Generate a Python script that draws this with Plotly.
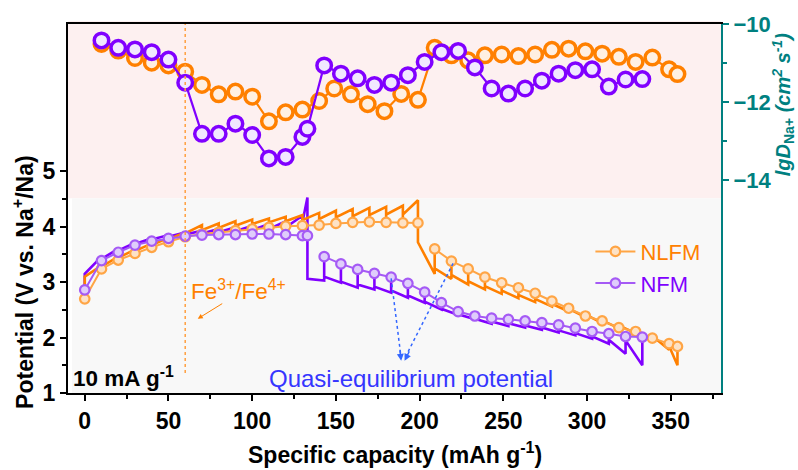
import plotly.graph_objects as go

# ---------------- data ----------------
# NFM GITT charge
nfm_chg_cap = [0, 10, 20, 30, 40, 50, 60, 70, 80, 90, 100, 110, 120, 130, 133]
nfm_chg_eq = [2.86, 3.39, 3.54, 3.67, 3.74, 3.79, 3.83, 3.85, 3.86, 3.86, 3.87, 3.87, 3.86, 3.84, 3.84]
nfm_chg_start = [3.15, 3.42, 3.57, 3.69, 3.77, 3.82, 3.86, 3.88, 3.90, 3.92, 3.94, 3.96, 3.99, 4.08]
nfm_chg_peak = [3.46, 3.60, 3.71, 3.79, 3.85, 3.90, 3.93, 3.96, 3.99, 4.02, 4.05, 4.10, 4.20, 4.53]
# NFM GITT discharge
nfm_dis_cap = [143, 153, 163, 173, 183, 193, 203, 213, 223, 233, 243, 253, 263, 273, 283, 293, 303, 313, 323, 333]
nfm_dis_eq = [3.46, 3.33, 3.23, 3.16, 3.09, 2.98, 2.82, 2.63, 2.47, 2.39, 2.35, 2.33, 2.30, 2.27, 2.23, 2.17, 2.11, 2.07, 2.02, 2.01]
nfm_dis_start = [3.06, 3.10, 3.01, 2.96, 2.92, 2.85, 2.76, 2.65, 2.52, 2.42, 2.34, 2.29, 2.26, 2.22, 2.18, 2.13, 2.08, 2.02, 1.96, 1.95]
nfm_dis_trough = [3.03, 2.99, 2.90, 2.87, 2.81, 2.72, 2.63, 2.51, 2.41, 2.33, 2.25, 2.21, 2.18, 2.14, 2.09, 2.04, 1.98, 1.89, 1.71, 1.50]

# NLFM GITT charge
nlfm_chg_cap = [0, 10, 20, 30, 40, 50, 60, 70, 80, 90, 100, 110, 120, 130, 140, 150, 160, 170, 180, 190, 199]
nlfm_chg_eq = [2.70, 3.24, 3.40, 3.52, 3.63, 3.73, 3.82, 3.87, 3.90, 3.93, 3.96, 3.99, 4.01, 4.02, 4.03, 4.06, 4.08, 4.09, 4.08, 4.07, 4.07]
nlfm_chg_start = [3.10, 3.28, 3.44, 3.56, 3.67, 3.77, 3.88, 3.94, 3.98, 4.02, 4.05, 4.08, 4.10, 4.12, 4.14, 4.17, 4.19, 4.21, 4.22, 4.22]
nlfm_chg_peak = [3.30, 3.46, 3.59, 3.70, 3.80, 3.90, 4.03, 4.06, 4.10, 4.13, 4.15, 4.18, 4.21, 4.25, 4.29, 4.32, 4.34, 4.36, 4.38, 4.48]
# NLFM GITT discharge
nlfm_dis_cap = [209, 219, 229, 239, 249, 259, 269, 279, 289, 299, 309, 319, 329, 339, 349, 354]
nlfm_dis_eq = [3.60, 3.38, 3.24, 3.09, 2.99, 2.90, 2.80, 2.66, 2.53, 2.39, 2.30, 2.18, 2.11, 1.99, 1.89, 1.84]
nlfm_dis_start = [3.72, 3.25, 3.13, 3.02, 2.93, 2.85, 2.77, 2.70, 2.61, 2.52, 2.42, 2.31, 2.22, 2.14, 2.03, 1.85]
nlfm_dis_trough = [3.15, 3.06, 2.96, 2.87, 2.79, 2.71, 2.64, 2.56, 2.47, 2.37, 2.26, 2.17, 2.08, 1.97, 1.78, 1.50]

# Na+ diffusion coefficient (lg D)
nfm_lgd_cap = [10, 20, 30, 40, 50, 60, 70, 80, 90, 100, 110, 120, 130, 133, 143, 153, 163, 173, 183, 193,
               203, 213, 223, 233, 243, 253, 263, 273, 283, 293, 303, 313, 323, 333]
nfm_lgd = [-10.42, -10.61, -10.65, -10.72, -10.91, -11.50, -12.81, -12.81, -12.55, -12.84, -13.44, -13.40,
           -12.89, -12.68, -11.06, -11.27, -11.39, -11.56, -11.50, -11.31, -10.97, -10.72, -10.69, -11.11,
           -11.65, -11.78, -11.65, -11.45, -11.27, -11.18, -11.16, -11.60, -11.42, -11.41]
nlfm_lgd_cap = [10, 20, 30, 40, 50, 60, 70, 80, 90, 100, 110, 120, 130, 140, 149, 159, 169, 179, 189, 199,
                209, 219, 229, 239, 249, 259, 269, 279, 289, 299, 309, 319, 329, 339, 349, 354]
nlfm_lgd = [-10.51, -10.68, -10.87, -10.99, -11.06, -11.22, -11.56, -11.80, -11.73, -11.86, -12.49, -12.26,
            -12.19, -11.97, -11.65, -11.80, -12.05, -12.23, -11.79, -11.94, -10.61, -10.80, -10.93, -10.80,
            -10.78, -10.82, -10.78, -10.66, -10.63, -10.70, -10.76, -10.84, -10.97, -10.86, -11.16, -11.28]

x_ticks = [0, 50, 100, 150, 200, 250, 300, 350]
y_ticks = [1, 2, 3, 4, 5]
y2_ticks = [-10, -12, -14]

# ---------------- styles ----------------
ORANGE = "#ff8000"
PURPLE = "#8000ff"
ORANGE_L = "#ffa545"
PURPLE_L = "#a55af5"
TEAL = "#008080"
BLUE = "#3535ff"
FONT = "Arial, Liberation Sans, sans-serif"


def gitt_path(chg_cap, chg_eq, chg_start, chg_peak, dis_cap, dis_eq, dis_start, dis_trough):
    xs, ys = [], []
    for i in range(len(chg_cap) - 1):
        xs += [chg_cap[i], chg_cap[i], chg_cap[i + 1]]
        ys += [chg_eq[i], chg_start[i], chg_peak[i]]
    xs.append(chg_cap[-1]); ys.append(chg_eq[-1])
    prev_x = chg_cap[-1]
    for i in range(len(dis_cap)):
        xs += [prev_x, dis_cap[i], dis_cap[i]]
        ys += [dis_start[i], dis_trough[i], dis_eq[i]]
        prev_x = dis_cap[i]
    return xs, ys


fig = go.Figure()

# raw GITT curves
px_, py_ = gitt_path(nfm_chg_cap, nfm_chg_eq, nfm_chg_start, nfm_chg_peak,
                     nfm_dis_cap, nfm_dis_eq, nfm_dis_start, nfm_dis_trough)
fig.add_trace(go.Scatter(x=px_, y=py_, mode="lines", line=dict(color=PURPLE, width=2.6),
                         showlegend=False, hoverinfo="skip"))
ox_, oy_ = gitt_path(nlfm_chg_cap, nlfm_chg_eq, nlfm_chg_start, nlfm_chg_peak,
                     nlfm_dis_cap, nlfm_dis_eq, nlfm_dis_start, nlfm_dis_trough)
fig.add_trace(go.Scatter(x=ox_, y=oy_, mode="lines", line=dict(color=ORANGE, width=2.6),
                         showlegend=False, hoverinfo="skip"))

# quasi-equilibrium potentials
mk_o = dict(symbol="circle", size=9.5, color="#fde2c6", line=dict(color=ORANGE_L, width=2.2))
mk_p = dict(symbol="circle", size=9.5, color="#dfcdfb", line=dict(color=PURPLE_L, width=2.2))
fig.add_trace(go.Scatter(x=nlfm_chg_cap, y=nlfm_chg_eq, mode="lines+markers",
                         line=dict(color=ORANGE_L, width=2), marker=mk_o,
                         name='<span style="color:#ff8000">NLFM</span>', legendgroup="o"))
fig.add_trace(go.Scatter(x=nlfm_dis_cap, y=nlfm_dis_eq, mode="lines+markers",
                         line=dict(color=ORANGE_L, width=2), marker=mk_o,
                         showlegend=False, legendgroup="o"))
fig.add_trace(go.Scatter(x=nfm_chg_cap, y=nfm_chg_eq, mode="lines+markers",
                         line=dict(color=PURPLE_L, width=2), marker=mk_p,
                         name='<span style="color:#8000ff">NFM</span>', legendgroup="p"))
fig.add_trace(go.Scatter(x=nfm_dis_cap, y=nfm_dis_eq, mode="lines+markers",
                         line=dict(color=PURPLE_L, width=2), marker=mk_p,
                         showlegend=False, legendgroup="p"))

# diffusion coefficients (right axis)
fig.add_trace(go.Scatter(x=nlfm_lgd_cap, y=nlfm_lgd, yaxis="y2", mode="lines+markers",
                         line=dict(color=ORANGE, width=2.2),
                         marker=dict(size=14.5, color="#fff0e2", line=dict(color=ORANGE, width=3.5)),
                         showlegend=False))
fig.add_trace(go.Scatter(x=nfm_lgd_cap, y=nfm_lgd, yaxis="y2", mode="lines+markers",
                         line=dict(color=PURPLE, width=2.2),
                         marker=dict(size=14.5, color="#f1e8ff", line=dict(color=PURPLE, width=3.5)),
                         showlegend=False))

# ---------------- shapes ----------------
shapes = [
    dict(type="rect", xref="paper", yref="paper", x0=0, x1=1, y0=0.528, y1=1.008,
         fillcolor="#fdf0f0", line=dict(width=0), layer="below"),
    dict(type="rect", xref="paper", yref="paper", x0=0.006, x1=1, y0=0, y1=0.528,
         fillcolor="#f8f8f8", line=dict(width=0), layer="below"),
    dict(type="line", xref="x", yref="y", x0=60, x1=60, y0=1.36, y1=7.66,
         line=dict(color="#ffa040", width=1.5, dash="dot")),
    dict(type="line", xref="x", yref="y", x0=183, x1=189, y0=3.07, y1=1.62,
         line=dict(color="#3366ff", width=1.5, dash="dot")),
    dict(type="line", xref="x", yref="y", x0=220, x1=191, y0=3.34, y1=1.62,
         line=dict(color="#3366ff", width=1.5, dash="dot")),
]

annotations = [
    dict(text="Potential (V vs. Na<sup>+</sup>/Na)", xref="paper", yref="paper", x=-0.068, y=0.30,
         textangle=-90, showarrow=False, font=dict(size=23, color="black", family=FONT, weight="bold"),
         xanchor="center", yanchor="middle"),
    dict(text="Specific capacity (mAh g<sup>-1</sup>)", xref="paper", yref="paper", x=0.5, y=-0.163,
         showarrow=False, font=dict(size=23, color="black", family=FONT, weight="bold"),
         xanchor="center", yanchor="middle"),
    dict(text="<i>lgD</i><sub>Na+</sub> <i>(cm<sup>2</sup> s<sup>-1</sup>)</i>", xref="paper", yref="paper",
         x=1.095, y=0.78, textangle=-90, showarrow=False,
         font=dict(size=20, color=TEAL, family=FONT, weight="bold"), xanchor="center", yanchor="middle"),
    dict(text="Fe<sup>3+</sup>/Fe<sup>4+</sup>", xref="x", yref="y", x=92, y=2.86, showarrow=False,
         font=dict(size=22.5, color=ORANGE, family=FONT), xanchor="center", yanchor="middle"),
    dict(text="", xref="x", yref="y", x=67.5, y=2.34, ax=83, ay=2.63, axref="x", ayref="y",
         showarrow=True, arrowhead=2, arrowsize=1, arrowwidth=1, arrowcolor=ORANGE),
    dict(text="<b>10 mA g<sup>-1</sup></b>", xref="x", yref="y", x=-8, y=1.28, showarrow=False,
         font=dict(size=22.5, color="black", family=FONT), xanchor="left", yanchor="middle"),
    dict(text="Quasi-equilibrium potential", xref="x", yref="y", x=195, y=1.26, showarrow=False,
         font=dict(size=24, color=BLUE, family=FONT), xanchor="center", yanchor="middle"),
    dict(text="", xref="x", yref="y", x=189, y=1.58, ax=-1.5, ay=-12, showarrow=True,
         arrowhead=2, arrowsize=1, arrowwidth=1.4, arrowcolor="#3366ff", standoff=0),
    dict(text="", xref="x", yref="y", x=191, y=1.58, ax=5.5, ay=-11, showarrow=True,
         arrowhead=2, arrowsize=1, arrowwidth=1.4, arrowcolor="#3366ff", standoff=0),
]

tickfont = dict(size=23, color="black", family=FONT, weight="bold")

fig.update_layout(
    width=798, height=470,
    margin=dict(l=68, r=77, t=20, b=77),
    plot_bgcolor="white", paper_bgcolor="white",
    font=dict(family=FONT),
    shapes=shapes, annotations=annotations,
    xaxis=dict(range=[-10, 380], tickmode="array", tickvals=x_ticks, ticks="outside", ticklen=6,
               tickwidth=2, tickcolor="black", showline=True, linewidth=2, linecolor="black",
               mirror=True, showgrid=False, zeroline=False, tickfont=tickfont,
               minor=dict(tickmode="linear", tick0=25, dtick=50, ticks="outside", ticklen=4,
                          tickwidth=2, tickcolor="black")),
    yaxis=dict(range=[1, 7.66], tickmode="array", tickvals=y_ticks, ticks="outside", ticklen=6,
               tickwidth=2, tickcolor="black", showline=True, linewidth=2, linecolor="black",
               showgrid=False, zeroline=False, tickfont=tickfont,
               minor=dict(tickmode="array", tickvals=[1.5, 2.5, 3.5, 4.5], ticks="outside", ticklen=4,
                          tickwidth=2, tickcolor="black")),
    yaxis2=dict(overlaying="y", side="right", range=[-19.44, -10], tickmode="array", tickvals=y2_ticks,
                ticks="outside", ticklen=6, tickwidth=2, tickcolor=TEAL, showline=True, linewidth=2,
                linecolor=TEAL, showgrid=False, zeroline=False,
                tickfont=dict(size=22, color=TEAL, family=FONT, weight="bold"),
                minor=dict(tickmode="array", tickvals=[-11, -13], ticks="outside", ticklen=4,
                           tickwidth=2, tickcolor=TEAL)),
    legend=dict(x=0.80, y=0.44, xanchor="left", yanchor="top", bgcolor="rgba(0,0,0,0)",
                font=dict(size=22, family=FONT), tracegroupgap=0, itemwidth=40),
    showlegend=True,
)

fig.write_html("out.html")
